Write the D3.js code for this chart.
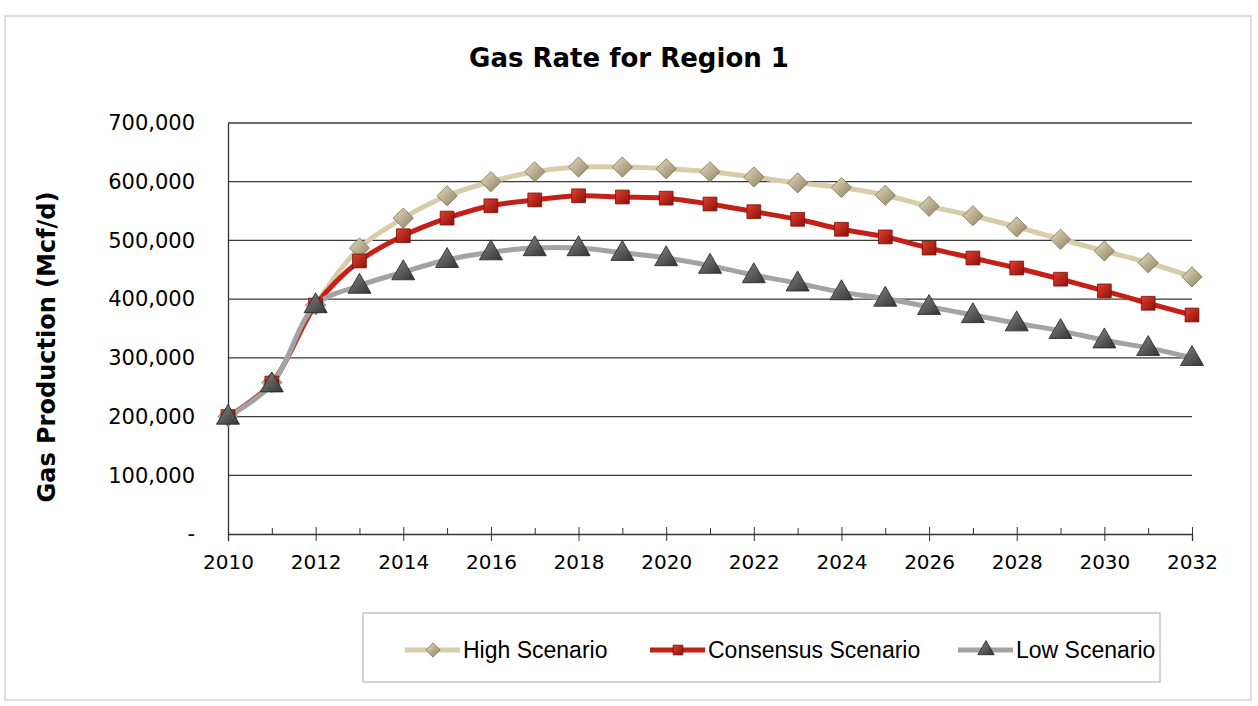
<!DOCTYPE html>
<html lang="en">

<head>
    <meta charset="UTF-8" />
    <title>Gas Rate for Region 1</title>
    <script src="https://d3js.org/d3.v7.js"></script>
    <style>
        body { margin: 0; background: #fff; }
    </style>
</head>

<body>
    <svg id="gas-chart"></svg>
</body>

<script>
    // chart values
    var years = d3.range(2010, 2033);
    var high = [200000, 258000, 390000, 487000, 538000, 576000, 600000, 617000, 625000, 625000, 622000, 617000,
        608000, 598000, 590000, 577000, 558000, 542000, 523000, 502000, 482000, 462000, 438000];
    var consensus = [200000, 257000, 390000, 465000, 508000, 538000, 559000, 569000, 576000, 574000, 572000, 562000,
        549000, 536000, 519000, 506000, 487000, 470000, 453000, 434000, 414000, 393000, 373000];
    var low = [200000, 255000, 390000, 423000, 446000, 467000, 480000, 487000, 487000, 479000, 470000, 457000,
        441000, 427000, 412000, 401000, 387000, 373000, 359000, 346000, 330000, 317000, 300000];
    var yTicks = [0, 100000, 200000, 300000, 400000, 500000, 600000, 700000];
    var seriesNames = ["High Scenario", "Consensus Scenario", "Low Scenario"];

    var width = 1258;
    var height = 706;
    var margin = { top: 123, right: 66, bottom: 172, left: 228 };

    var svg = d3.select("#gas-chart")
        .attr("width", width)
        .attr("height", height);

    // gradients for the bevelled markers
    var defs = svg.append("defs");
    function grad(id, c1, c2) {
        var g = defs.append("linearGradient").attr("id", id)
            .attr("x1", 0).attr("y1", 0).attr("x2", 1).attr("y2", 1);
        g.append("stop").attr("offset", "0%").attr("stop-color", c1);
        g.append("stop").attr("offset", "100%").attr("stop-color", c2);
    }
    grad("gHigh", "#e4dcc0", "#8f8060");
    grad("gCons", "#e04030", "#8c1008");
    grad("gLow", "#888888", "#333333");

    // outer frame
    svg.append("rect")
        .attr("x", 5).attr("y", 16)
        .attr("width", 1246).attr("height", 684)
        .attr("fill", "none")
        .attr("stroke", "#bbb")
        .attr("stroke-width", 1);

    svg.append("text")
        .attr("x", 629).attr("y", 67)
        .attr("text-anchor", "middle")
        .style("font-family", "DejaVu Sans, Verdana, sans-serif")
        .style("font-weight", "bold")
        .style("font-size", "26px")
        .attr("fill", "#000")
        .text("Gas Rate for Region 1");

    var x = d3.scaleLinear()
        .domain([2010, 2032])
        .range([margin.left, width - margin.right]);

    var y = d3.scaleLinear()
        .domain([0, 700000])
        .range([height - margin.bottom + 0, margin.top]);

    var g = svg.append("g");

    // gridlines
    g.selectAll(".grid")
        .data(yTicks.slice(1))
        .enter()
        .append("line")
        .attr("x1", x(2010)).attr("x2", x(2032))
        .attr("y1", (d) => y(d)).attr("y2", (d) => y(d))
        .attr("stroke", "#3a3a3a")
        .attr("stroke-width", 1.3);

    // y axis
    var yAxis = g.append("g")
        .attr("transform", `translate(${x(2010)},0)`)
        .call(d3.axisLeft(y).tickValues(yTicks).tickSize(0).tickPadding(33)
            .tickFormat((d) => d === 0 ? "-" : d3.format(",")(d)));
    yAxis.select(".domain").attr("stroke", "#333").attr("stroke-width", 1.3);
    yAxis.selectAll("text")
        .style("font-family", "DejaVu Sans, Verdana, sans-serif")
        .style("font-size", "21px")
        .attr("fill", "#000");

    // x axis
    var xAxis = g.append("g")
        .attr("transform", `translate(0,${y(0)})`)
        .call(d3.axisBottom(x).tickValues(years).tickSize(7).tickPadding(14)
            .tickFormat((d) => d % 2 === 0 ? d : ""));
    xAxis.select(".domain").attr("stroke", "#333").attr("stroke-width", 1.3);
    xAxis.selectAll(".tick line")
        .attr("stroke", "#333")
        .attr("y1", (d) => d % 2 === 0 ? -7 : -6)
        .attr("y2", (d) => d % 2 === 0 ? 7 : 0);
    xAxis.selectAll("text")
        .style("font-family", "DejaVu Sans, Verdana, sans-serif")
        .style("font-size", "20px")
        .attr("fill", "#000");

    svg.append("text")
        .attr("transform", "translate(55,347) rotate(-90)")
        .attr("text-anchor", "middle")
        .style("font-family", "DejaVu Sans, Verdana, sans-serif")
        .style("font-weight", "bold")
        .style("font-size", "24px")
        .attr("fill", "#000")
        .text("Gas Production (Mcf/d)");

    // series
    var series = [
        { name: seriesNames[0], values: high, line: "#d8ccaa", fill: "url(#gHigh)", stroke: "#7d7050", shape: d3.symbolDiamond2, size: 260 },
        { name: seriesNames[1], values: consensus, line: "#c42018", fill: "url(#gCons)", stroke: "#7a0c06", shape: d3.symbolSquare, size: 190 },
        { name: seriesNames[2], values: low, line: "#a3a3a3", fill: "url(#gLow)", stroke: "#222", shape: d3.symbolTriangle, size: 230 }
    ];

    var line = d3.line()
        .x((d, i) => x(years[i]))
        .y((d) => y(d))
        .curve(d3.curveCatmullRom);

    series.forEach(function (s) {
        g.append("path")
            .datum(s.values)
            .attr("d", line)
            .attr("fill", "none")
            .attr("stroke", s.line)
            .attr("stroke-width", 5);
    });

    series.forEach(function (s) {
        g.selectAll(null)
            .data(s.values)
            .enter()
            .append("path")
            .attr("transform", (d, i) => `translate(${x(years[i])},${y(d) + (s.shape === d3.symbolTriangle ? 1 : 0)})`)
            .attr("d", d3.symbol().type(s.shape).size(s.size))
            .attr("fill", s.fill)
            .attr("stroke", s.stroke)
            .attr("stroke-width", 0.8);
    });

    // legend
    var legend = svg.append("g");
    legend.append("rect")
        .attr("x", 363).attr("y", 613)
        .attr("width", 797).attr("height", 69)
        .attr("fill", "#fff")
        .attr("stroke", "#aaa")
        .attr("stroke-width", 1);

    var legendX = [405, 650, 958];
    series.forEach(function (s, i) {
        var lx = legendX[i];
        legend.append("line")
            .attr("x1", lx).attr("x2", lx + 55)
            .attr("y1", 650).attr("y2", 650)
            .attr("stroke", s.line)
            .attr("stroke-width", 5);
        legend.append("path")
            .attr("transform", `translate(${lx + 28},650)`)
            .attr("d", d3.symbol().type(s.shape).size(s.size * 0.5))
            .attr("fill", s.fill)
            .attr("stroke", s.stroke)
            .attr("stroke-width", 0.8);
        legend.append("text")
            .attr("x", lx + 58).attr("y", 658)
            .style("font-family", "Liberation Sans Narrow, Arial Narrow, sans-serif")
            .style("font-size", "23px")
            .attr("fill", "#000")
            .text(s.name);
    });
</script>

</html>
